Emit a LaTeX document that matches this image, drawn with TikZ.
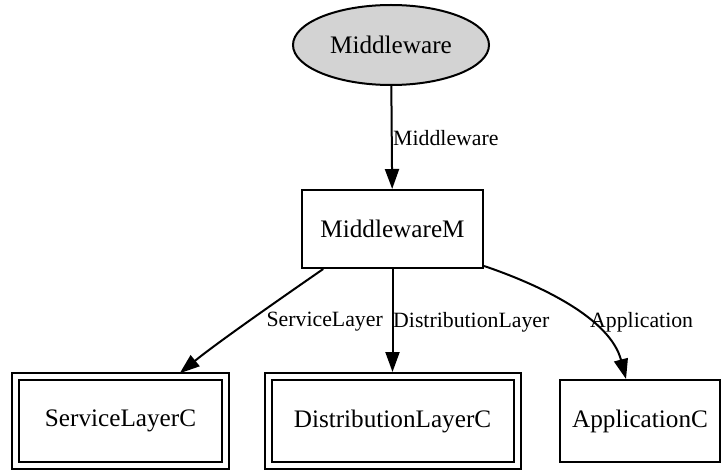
\documentclass[tikz,border=0pt]{standalone}
\usepackage{fontspec}
\setmainfont{Liberation Serif}
\usetikzlibrary{arrows.meta,shapes.geometric,calc}
\begin{document}
\begin{tikzpicture}[x=1pt,y=-1pt,
  nodefont/.style={font=\fontsize{25.2}{30}\selectfont},
  lblfont/.style={font=\fontsize{21.8}{26}\selectfont, inner sep=0pt},
  box/.style={draw, line width=2pt, rectangle, nodefont, inner sep=0pt},
  dbox/.style={box, double, double distance=5pt},
  edge/.style={line width=2pt, -{Triangle[length=20pt,width=14pt]}}
]
\useasboundingbox (0,0) rectangle (725,470);
\node[ellipse, draw, line width=2pt, fill={rgb,255:red,211;green,211;blue,211},
      minimum width=196pt, minimum height=80pt, inner sep=0pt, nodefont] (mw) at (391,45) {Middleware};
\node[box, minimum width=181pt, minimum height=78pt] (mm) at (392.5,229) {MiddlewareM};
\node[dbox, minimum width=210pt, minimum height=89pt] (s) at (120.5,421) {ServiceLayerC};
\node[dbox, minimum width=249pt, minimum height=89pt] (d) at (392.5,421) {DistributionLayerC};
\node[box, minimum width=160pt, minimum height=82pt] (a) at (640,421) {ApplicationC};

\draw[edge] (mw) -- (mm);
\draw[edge, shorten >=3.5pt] (mm.210) .. controls (290,292) and (218,342) .. ($(s.north)+(56.5,0)$);
\draw[edge, shorten >=3.5pt] (mm.south) -- (d.north);
\draw[edge] (mm.-22) .. controls (540,285) and (610,318) .. ($(a.north)+(-14,0)$);

\node[lblfont, anchor=west] (l1) at (393,138) {Middleware};
\node[lblfont, anchor=east] (l2) at (383,322) {ServiceLayer};
\node[lblfont, anchor=west] (l3) at (393,322) {DistributionLayer};
\node[lblfont, anchor=west] (l4) at (590,322) {Application};
\end{tikzpicture}
\end{document}
